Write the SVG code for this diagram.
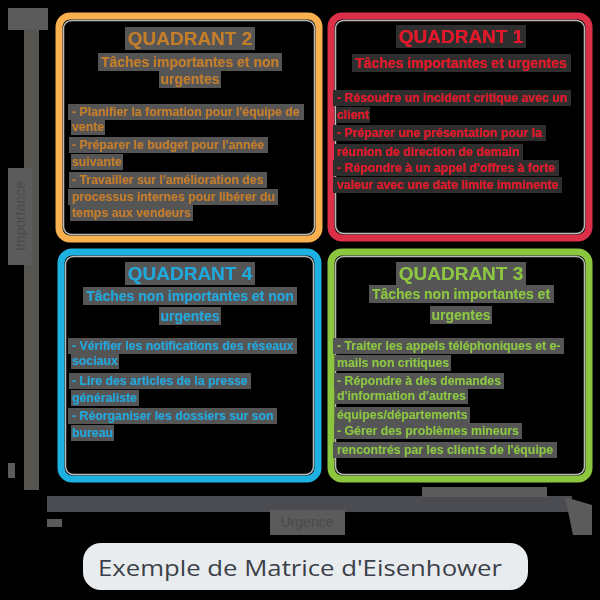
<svg xmlns="http://www.w3.org/2000/svg" width="600" height="600" viewBox="0 0 600 600">
  <defs>
    <filter id="hl" x="-0.015" y="-0.02" width="1.03" height="1.04">
      <feFlood flood-color="#545454" result="bg"/>
      <feMerge><feMergeNode in="bg"/><feMergeNode in="SourceGraphic"/></feMerge>
    </filter>
    <filter id="hld" x="-0.015" y="-0.02" width="1.03" height="1.04">
      <feFlood flood-color="#2e2e2e" result="bg"/>
      <feMerge><feMergeNode in="bg"/><feMergeNode in="SourceGraphic"/></feMerge>
    </filter>
  </defs>
  <style>
    .box { fill: #000; stroke-width: 7; }
    .rim { fill: none; stroke: #b9b9b9; stroke-width: 1.5; }
    .title { font-family: "Liberation Sans", Arial, sans-serif; font-size: 19px; font-weight: bold; text-anchor: middle; filter: url(#hl); }
    .sub { font-family: "Liberation Sans", Arial, sans-serif; font-size: 14px; font-weight: bold; text-anchor: middle; filter: url(#hl); }
    .item { font-family: "Liberation Sans", Arial, sans-serif; font-size: 12.3px; font-weight: bold; filter: url(#hl); }
    .q1 text { fill: #e5182c; filter: url(#hld); }
    .q2 text { fill: #c47f26; }
    .q3 text { fill: #8dc63f; }
    .q4 text { fill: #1aa9dc; }
    .axis { fill: #55544f; }
    .axlabel { fill: #5b5b5b; }
    .axtext { font-family: "Liberation Sans", Arial, sans-serif; font-size: 14px; fill: #4a4a48; }
  </style>

  <rect x="0" y="0" width="600" height="600" fill="#000"/>

  <g id="axes">
    <rect class="axis" x="24" y="12" width="15" height="478"/>
    <rect class="axlabel" x="8" y="8" width="40" height="22"/>
    <rect class="axlabel" x="8" y="168" width="24" height="97"/>
    <text class="axtext" transform="translate(25,216) rotate(-90)" text-anchor="middle">Importance</text>
    <rect class="axlabel" x="8" y="463" width="7" height="15"/>
    <rect x="47" y="496" width="525" height="16" fill="#4a4c51"/>
    <rect class="axlabel" x="422" y="487" width="125" height="10"/>
    <path class="axlabel" d="M565 497 L592 505 L592 535 L573 535 Z"/>
    <rect class="axlabel" x="270" y="510" width="75" height="25"/>
    <text class="axtext" x="307" y="527" text-anchor="middle">Urgence</text>
    <rect class="axlabel" x="47" y="519" width="15" height="8"/>
  </g>

  <g id="quadrant2" class="q2">
    <rect class="box" x="59" y="16" width="260" height="223" rx="11" stroke="#f9b14f"/>
    <rect class="rim" x="63.5" y="20.5" width="251" height="214" rx="8"/>
    <text class="title" x="190" y="45">QUADRANT 2</text>
    <text class="sub" x="190" y="67">Tâches importantes et non</text>
    <text class="sub" x="190" y="84">urgentes</text>
    <text class="item" x="72" y="116">- Planifier la formation pour l'équipe de</text>
    <text class="item" x="72" y="131">vente</text>
    <text class="item" x="72" y="149">- Préparer le budget pour l'année</text>
    <text class="item" x="72" y="166">suivante</text>
    <text class="item" x="72" y="184">- Travailler sur l'amélioration des</text>
    <text class="item" x="72" y="201">processus internes pour libérer du</text>
    <text class="item" x="72" y="217">temps aux vendeurs</text>
  </g>

  <g id="quadrant1" class="q1">
    <rect class="box" x="331" y="16" width="258" height="222" rx="11" stroke="#dc3048"/>
    <rect class="rim" x="335.5" y="20.5" width="249" height="213" rx="8" stroke="#6a6a6a"/>
    <text class="title" x="461" y="43">QUADRANT 1</text>
    <text class="sub" x="461" y="68">Tâches importantes et urgentes</text>
    <text class="item" x="337" y="102">- Résoudre un incident critique avec un</text>
    <text class="item" x="337" y="119">client</text>
    <text class="item" x="337" y="137">- Préparer une présentation pour la</text>
    <text class="item" x="337" y="156">réunion de direction de demain</text>
    <text class="item" x="337" y="172">- Répondre à un appel d'offres à forte</text>
    <text class="item" x="337" y="189">valeur avec une date limite imminente</text>
  </g>

  <g id="quadrant4" class="q4">
    <rect class="box" x="61" y="252" width="257" height="227" rx="11" stroke="#1cb1e0"/>
    <rect class="rim" x="65.5" y="256.5" width="248" height="218" rx="8" stroke="#8a8a8a"/>
    <text class="title" x="190" y="280">QUADRANT 4</text>
    <text class="sub" x="190" y="301">Tâches non importantes et non</text>
    <text class="sub" x="190" y="321">urgentes</text>
    <text class="item" x="72" y="350">- Vérifier les notifications des réseaux</text>
    <text class="item" x="72" y="365">sociaux</text>
    <text class="item" x="72" y="385">- Lire des articles de la presse</text>
    <text class="item" x="72" y="402">généraliste</text>
    <text class="item" x="72" y="420">- Réorganiser les dossiers sur son</text>
    <text class="item" x="72" y="437">bureau</text>
  </g>

  <g id="quadrant3" class="q3">
    <rect class="box" x="331" y="252" width="258" height="227" rx="11" stroke="#8cc63f"/>
    <rect class="rim" x="335.5" y="256.5" width="249" height="218" rx="8" stroke="#8a8a8a"/>
    <text class="title" x="461" y="280">QUADRANT 3</text>
    <text class="sub" x="461" y="299">Tâches non importantes et</text>
    <text class="sub" x="461" y="320">urgentes</text>
    <text class="item" x="337" y="350">- Traiter les appels téléphoniques et e-</text>
    <text class="item" x="337" y="367">mails non critiques</text>
    <text class="item" x="337" y="385">- Répondre à des demandes</text>
    <text class="item" x="337" y="400">d'information d'autres</text>
    <text class="item" x="337" y="419">équipes/départements</text>
    <text class="item" x="337" y="435">- Gérer des problèmes mineurs</text>
    <text class="item" x="337" y="454">rencontrés par les clients de l'équipe</text>
  </g>

  <g id="caption">
    <rect x="83" y="543" width="445" height="47" rx="18" fill="#e9ecef"/>
    <text x="300" y="576" text-anchor="middle" textLength="404" lengthAdjust="spacingAndGlyphs" font-family="'Open Sans', 'Liberation Sans', sans-serif" font-size="21" fill="#3b4049">Exemple de Matrice d'Eisenhower</text>
  </g>
</svg>
